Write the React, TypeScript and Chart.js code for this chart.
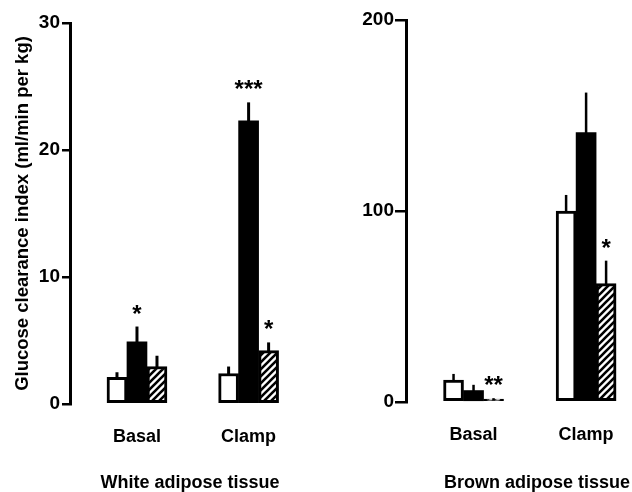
import React, { useEffect, useRef } from 'react';
import { Chart, registerables } from 'chart.js';
Chart.register(...registerables);

const categories = ['Basal', 'Clamp'];

// White adipose tissue
const whiteControl = [2.1, 2.4];
const whiteControlErr = [0.4, 0.55];
const whiteInsulin = [4.9, 22.3];
const whiteInsulinErr = [1.2, 1.45];
const whiteHatched = [2.95, 4.2];
const whiteHatchedErr = [0.85, 0.65];
const whiteSig = [['', ''], ['*', '***'], ['', '*']];
const whiteTicks = [0, 10, 20, 30];

// Brown adipose tissue
const brownControl = [11.5, 100];
const brownControlErr = [3.2, 8.4];
const brownInsulin = [6, 141];
const brownInsulinErr = [3, 21];
const brownHatched = [1.5, 62];
const brownHatchedErr = [0.5, 12];
const brownSig = [['', ''], ['', ''], ['**', '*']];
const brownTicks = [0, 100, 200];

const FONT = '"Liberation Sans", Arial, Helvetica, sans-serif';

function makeHatch(): CanvasPattern | string {
  const c = document.createElement('canvas');
  c.width = 7;
  c.height = 7;
  const g = c.getContext('2d');
  if (!g) return '#888';
  g.fillStyle = '#fff';
  g.fillRect(0, 0, 7, 7);
  g.strokeStyle = '#000';
  g.lineWidth = 2.6;
  g.beginPath();
  g.moveTo(-1, 8);
  g.lineTo(8, -1);
  g.moveTo(-2, 2);
  g.lineTo(2, -2);
  g.moveTo(5, 9);
  g.lineTo(9, 5);
  g.stroke();
  const p = g.createPattern(c, 'repeat');
  return p || '#888';
}

function errorPlugin(errors: number[][], sig: string[][], lw: number) {
  return {
    id: 'errbars',
    afterDatasetsDraw(chart: any) {
      const { ctx } = chart;
      const ys = chart.scales.y;
      errors.forEach((errs, di) => {
        const meta = chart.getDatasetMeta(di);
        meta.data.forEach((bar: any, j: number) => {
          const v = chart.data.datasets[di].data[j].y;
          const top = ys.getPixelForValue(v + errs[j]);
          ctx.save();
          ctx.strokeStyle = '#000';
          ctx.lineWidth = lw;
          ctx.beginPath();
          ctx.moveTo(bar.x, bar.y + 1);
          ctx.lineTo(bar.x, top);
          ctx.stroke();
          const s = sig[di][j];
          if (s) {
            ctx.fillStyle = '#000';
            ctx.font = `bold 24px ${FONT}`;
            ctx.textAlign = 'center';
            ctx.textBaseline = 'alphabetic';
            ctx.fillText(s, bar.x, top - 5);
          }
          ctx.restore();
        });
      });
    },
  };
}

interface PanelProps {
  width: number;
  left: number;
  axisWidth: number;
  top: number;
  bottomBox: number;
  padRight: number;
  xMin: number;
  xMax: number;
  yMax: number;
  ticks: number[];
  tickLength: number;
  tickPad: number;
  series: number[][];
  errors: number[][];
  sig: string[][];
  title: string;
  titleAlign: 'center' | 'end';
  yTitle?: string;
  errWidth: number;
}

function Panel(p: PanelProps) {
  const ref = useRef<HTMLCanvasElement | null>(null);
  useEffect(() => {
    if (!ref.current) return;
    const hatch = makeHatch();
    const fills = ['#fff', '#000', hatch];
    const datasets = p.series.map((vals, i) => ({
      data: vals.map((v, j) => ({ x: j + 1, y: v })),
      backgroundColor: fills[i],
      borderColor: '#000',
      borderWidth: i === 1 ? 0 : 3,
      borderSkipped: false,
      barThickness: 20,
    }));
    const font = { family: FONT, size: 18, weight: 'bold' as const };
    const chart = new Chart(ref.current, {
      type: 'bar',
      data: { datasets: datasets as any },
      options: {
        animation: false,
        responsive: false,
        devicePixelRatio: 1,
        layout: { padding: { top: p.top, right: p.padRight, left: 0, bottom: 0 } },
        plugins: { legend: { display: false }, tooltip: { enabled: false } },
        scales: {
          x: {
            type: 'linear',
            min: p.xMin,
            max: p.xMax,
            offset: false,
            afterBuildTicks: (s: any) => {
              s.ticks = categories.map((_, i) => ({ value: i + 1 }));
            },
            afterFit: (s: any) => {
              s.height = p.bottomBox;
              s.paddingLeft = 0;
              s.paddingRight = 0;
            },
            grid: { display: false, drawTicks: false },
            border: { display: false },
            ticks: {
              color: '#000',
              font,
              padding: 22,
              autoSkip: false,
              maxRotation: 0,
              callback: (v: any) => categories[Number(v) - 1] ?? '',
            },
            title: {
              display: true,
              text: p.title,
              color: '#000',
              font: { ...font, lineHeight: 1 },
              align: p.titleAlign,
              padding: { top: 0, bottom: 0 },
            },
          },
          y: {
            min: 0,
            max: p.yMax,
            afterBuildTicks: (s: any) => {
              s.ticks = p.ticks.map((v) => ({ value: v }));
            },
            afterFit: (s: any) => {
              s.width = p.axisWidth;
            },
            grid: {
              display: true,
              drawOnChartArea: false,
              drawTicks: true,
              tickLength: p.tickLength,
              color: '#000',
              lineWidth: 2.5,
            },
            border: { display: true, color: '#000', width: 3 },
            ticks: { color: '#000', font: { ...font, size: 19 }, padding: p.tickPad },
            title: {
              display: !!p.yTitle,
              text: p.yTitle || '',
              color: '#000',
              font: { ...font, size: 18.5 },
              padding: { top: 12, bottom: 0 },
            },
          },
        },
      },
      plugins: [errorPlugin(p.errors, p.sig, p.errWidth)],
    } as any);
    return () => chart.destroy();
  }, []);
  return (
    <canvas
      ref={ref}
      width={p.width}
      height={492}
      style={{ position: 'absolute', left: p.left, top: 0, width: p.width, height: 492 }}
    />
  );
}

export default function App() {
  return (
    <div style={{ position: 'absolute', left: 0, top: 0, width: 632, height: 492, background: '#fff' }}>
      <Panel
        width={320}
        left={0}
        axisWidth={70}
        top={23}
        bottomBox={88}
        padRight={10}
        xMin={0.4}
        xMax={2.55}
        yMax={30}
        ticks={whiteTicks}
        tickLength={8}
        tickPad={2}
        series={[whiteControl, whiteInsulin, whiteHatched]}
        errors={[whiteControlErr, whiteInsulinErr, whiteHatchedErr]}
        sig={whiteSig}
        title="White adipose tissue"
        titleAlign="center"
        yTitle="Glucose clearance index (ml/min per kg)"
        errWidth={3}
      />
      <Panel
        width={312}
        left={320}
        axisWidth={86}
        top={20}
        bottomBox={90}
        padRight={2}
        xMin={0.4}
        xMax={2.39}
        yMax={200}
        ticks={brownTicks}
        tickLength={11}
        tickPad={1}
        series={[brownControl, brownInsulin, brownHatched]}
        errors={[brownControlErr, brownInsulinErr, brownHatchedErr]}
        sig={brownSig}
        title="Brown adipose tissue"
        titleAlign="end"
        errWidth={2.5}
      />
    </div>
  );
}
